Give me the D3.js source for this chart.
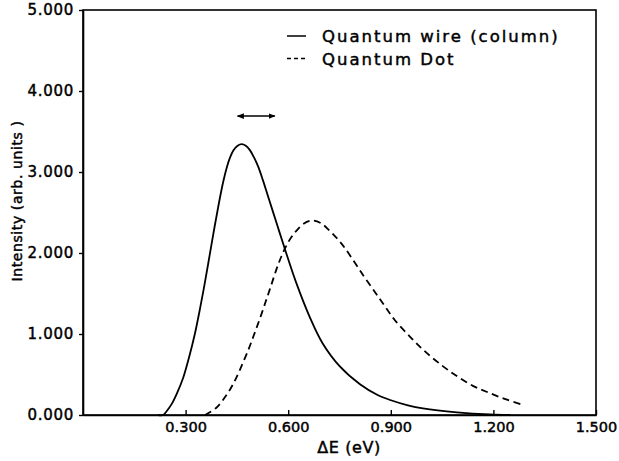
<!DOCTYPE html>
<html>
<head>
<meta charset="utf-8">
<script src="https://cdn.jsdelivr.net/npm/d3@7"></script>
<style>
  html, body { margin: 0; padding: 0; background: #fff; }
  svg { display: block; }
  text { font-family: "DejaVu Sans", sans-serif; fill: #000; stroke: #000; stroke-width: 0.45px; }
</style>
</head>
<body>
<svg id="chart" width="619" height="461"></svg>
<script>
// ---- data ----
const wireE = [0.22, 0.234, 0.245, 0.26, 0.275, 0.293, 0.31, 0.327, 0.342, 0.357, 0.371, 0.385, 0.398, 0.41, 0.42, 0.43, 0.44, 0.452, 0.464, 0.476, 0.488, 0.50, 0.512, 0.526, 0.541, 0.566, 0.591, 0.622, 0.664, 0.70, 0.751, 0.81, 0.86, 0.898, 0.95, 0.994, 1.093, 1.19, 1.25];
const wireI = [0, 0, 0.05, 0.14, 0.27, 0.46, 0.71, 1.0, 1.31, 1.65, 1.99, 2.33, 2.63, 2.88, 3.05, 3.18, 3.27, 3.325, 3.345, 3.325, 3.27, 3.18, 3.07, 2.90, 2.70, 2.37, 2.04, 1.65, 1.20, 0.89, 0.60, 0.38, 0.25, 0.185, 0.12, 0.082, 0.033, 0.006, 0];

const dotE = [0.357, 0.39, 0.42, 0.44, 0.46, 0.483, 0.50, 0.518, 0.535, 0.547, 0.57, 0.591, 0.61, 0.625, 0.645, 0.669, 0.695, 0.72, 0.745, 0.766, 0.82, 0.87, 0.912, 0.96, 1.0, 1.05, 1.093, 1.14, 1.184, 1.235, 1.287];
const dotI = [0, 0.09, 0.25, 0.39, 0.57, 0.80, 0.99, 1.20, 1.41, 1.56, 1.85, 2.06, 2.20, 2.28, 2.36, 2.40, 2.37, 2.28, 2.17, 2.06, 1.72, 1.42, 1.17, 0.95, 0.785, 0.61, 0.48, 0.36, 0.28, 0.195, 0.125];

const xTicks = [0.3, 0.6, 0.9, 1.2, 1.5];
const xTickLabels = ["0.300", "0.600", "0.900", "1.200", "1.500"];
const yTicks = [0, 1, 2, 3, 4, 5];
const yTickLabels = ["0.000", "1.000", "2.000", "3.000", "4.000", "5.000"];

const seriesNames = ["Quantum wire (column)", "Quantum Dot"];
const xTitle = "ΔE (eV)";
const yTitle = "Intensity  (arb. units )";
const arrowSpan = [0.452, 0.561];
const arrowLevel = 3.69;

// ---- layout ----
const svg = d3.select("#chart");
const x = d3.scaleLinear().domain([0, 1.5]).range([83, 596]);
const y = d3.scaleLinear().domain([0, 5]).range([415, 10]);

// frame
svg.append("rect")
  .attr("x", x(0)).attr("y", y(5))
  .attr("width", x(1.5) - x(0)).attr("height", y(0) - y(5))
  .attr("fill", "none").attr("stroke", "#000").attr("stroke-width", 1.6);

// x axis (ticks point inward)
const xAxis = d3.axisBottom(x).tickValues(xTicks)
  .tickFormat((d, i) => xTickLabels[i]).tickSizeInner(-5).tickSizeOuter(0).tickPadding(7);
const gx = svg.append("g").attr("transform", `translate(0,${y(0)})`).call(xAxis);
gx.select(".domain").attr("stroke-width", 1.6);
gx.selectAll(".tick line").attr("stroke-width", 1.4);
gx.selectAll("text").style("font-size", "14.5px").style("letter-spacing", "0px").attr("fill", "#000");

// y axis (ticks outward)
const yAxis = d3.axisLeft(y).tickValues(yTicks)
  .tickFormat((d, i) => yTickLabels[i]).tickSizeInner(4).tickSizeOuter(0).tickPadding(5);
const gy = svg.append("g").attr("transform", `translate(${x(0)},0)`).call(yAxis);
gy.select(".domain").attr("stroke-width", 1.6);
gy.selectAll(".tick line").attr("stroke-width", 1.4);
gy.selectAll("text").style("font-size", "15px").style("letter-spacing", "0.7px").attr("fill", "#000");

// axis titles
svg.append("text")
  .attr("x", 349).attr("y", 453)
  .attr("text-anchor", "middle")
  .style("font-size", "16px").style("letter-spacing", "0.6px")
  .text(xTitle);
svg.append("text")
  .attr("transform", "translate(22,201) rotate(-90)")
  .attr("text-anchor", "middle")
  .style("font-size", "14px").style("letter-spacing", "0.6px")
  .text(yTitle);

// curves
const line = d3.line().x(d => x(d[0])).y(d => y(d[1])).curve(d3.curveCatmullRom.alpha(0.5));
svg.append("path")
  .datum(d3.zip(wireE, wireI))
  .attr("d", line)
  .attr("fill", "none").attr("stroke", "#000").attr("stroke-width", 1.8);
svg.append("path")
  .datum(d3.zip(dotE, dotI))
  .attr("d", line)
  .attr("fill", "none").attr("stroke", "#000").attr("stroke-width", 1.8)
  .attr("stroke-dasharray", "7,4.5");

// double arrow
const defs = svg.append("defs");
defs.append("marker").attr("id", "ah").attr("viewBox", "0 0 10 10")
  .attr("refX", 9).attr("refY", 5).attr("markerWidth", 7).attr("markerHeight", 7)
  .attr("markerUnits", "userSpaceOnUse").attr("orient", "auto-start-reverse")
  .append("path").attr("d", "M0,1 L10,5 L0,9 Z").attr("fill", "#000");
svg.append("line")
  .attr("x1", x(arrowSpan[0])).attr("x2", x(arrowSpan[1]))
  .attr("y1", y(arrowLevel)).attr("y2", y(arrowLevel))
  .attr("stroke", "#000").attr("stroke-width", 1.5)
  .attr("marker-start", "url(#ah)").attr("marker-end", "url(#ah)");

// legend
const legend = svg.append("g");
seriesNames.forEach((name, i) => {
  const ly = 36 + i * 22.5;
  legend.append("line")
    .attr("x1", 287).attr("x2", 306).attr("y1", ly).attr("y2", ly)
    .attr("stroke", "#000").attr("stroke-width", 1.5)
    .attr("stroke-dasharray", i === 1 ? "4,3" : null);
  legend.append("text")
    .attr("x", 322).attr("y", ly + 6)
    .style("font-size", "16.5px").style("letter-spacing", "2px")
    .text(name);
});
</script>
</body>
</html>
